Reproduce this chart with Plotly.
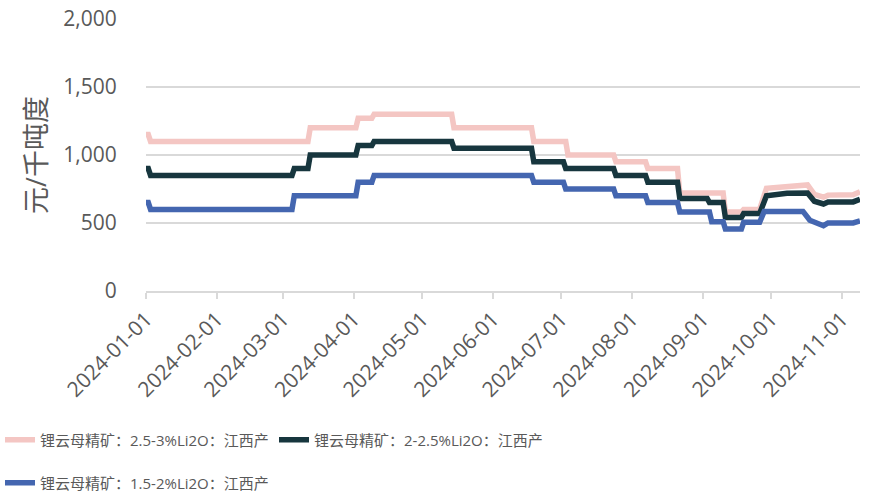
import plotly.graph_objects as go

# Series 1: 锂云母精矿：2.5-3%Li2O：江西产
pink_dates = ["2024-01-01", "2024-01-02", "2024-01-03", "2024-03-12", "2024-03-13",
              "2024-04-02", "2024-04-03", "2024-04-09", "2024-04-10", "2024-05-14",
              "2024-05-15", "2024-06-18", "2024-06-19", "2024-07-03", "2024-07-04",
              "2024-07-24", "2024-07-25", "2024-08-07", "2024-08-08", "2024-08-21",
              "2024-08-22", "2024-09-10", "2024-09-11", "2024-09-18", "2024-09-19",
              "2024-09-26", "2024-09-29", "2024-10-08", "2024-10-17", "2024-10-20",
              "2024-10-24", "2024-10-26", "2024-11-06", "2024-11-09"]
pink_vals = [1150, 1150, 1100, 1100, 1200,
             1200, 1270, 1270, 1300, 1300,
             1200, 1200, 1100, 1100, 1000,
             1000, 950, 950, 900, 900,
             720, 720, 580, 580, 600,
             600, 755, 770, 780, 710,
             690, 705, 708, 730]

# Series 2: 锂云母精矿：2-2.5%Li2O：江西产
dark_dates = ["2024-01-01", "2024-01-02", "2024-01-03", "2024-03-05", "2024-03-06",
              "2024-03-12", "2024-03-13", "2024-04-02", "2024-04-03", "2024-04-09",
              "2024-04-10", "2024-05-14", "2024-05-15", "2024-06-18", "2024-06-19",
              "2024-07-02", "2024-07-03", "2024-07-24", "2024-07-25", "2024-08-07",
              "2024-08-08", "2024-08-21", "2024-08-22", "2024-09-03", "2024-09-04",
              "2024-09-10", "2024-09-11", "2024-09-18", "2024-09-19", "2024-09-26",
              "2024-09-29", "2024-10-08", "2024-10-17", "2024-10-20", "2024-10-24",
              "2024-10-26", "2024-11-06", "2024-11-09"]
dark_vals = [900, 900, 850, 850, 900,
             900, 1000, 1000, 1070, 1070,
             1100, 1100, 1050, 1050, 950,
             950, 900, 900, 850, 850,
             800, 800, 680, 680, 650,
             650, 540, 540, 570, 570,
             700, 718, 720, 660, 640,
             655, 655, 675]

# Series 3: 锂云母精矿：1.5-2%Li2O：江西产
blue_dates = ["2024-01-01", "2024-01-02", "2024-01-03", "2024-03-05", "2024-03-06",
              "2024-04-02", "2024-04-03", "2024-04-09", "2024-04-10", "2024-06-18",
              "2024-06-19", "2024-07-02", "2024-07-03", "2024-07-24", "2024-07-25",
              "2024-08-07", "2024-08-08", "2024-08-21", "2024-08-22", "2024-09-04",
              "2024-09-05", "2024-09-10", "2024-09-11", "2024-09-18", "2024-09-19",
              "2024-09-26", "2024-09-28", "2024-10-15", "2024-10-18", "2024-10-24",
              "2024-10-26", "2024-11-06", "2024-11-09"]
blue_vals = [650, 650, 600, 600, 700,
             700, 800, 800, 850, 850,
             800, 800, 750, 750, 700,
             700, 650, 650, 580, 580,
             510, 510, 455, 455, 505,
             505, 585, 585, 520, 480,
             500, 500, 515]

names = ["锂云母精矿：2.5-3%Li2O：江西产",
         "锂云母精矿：2-2.5%Li2O：江西产",
         "锂云母精矿：1.5-2%Li2O：江西产"]
colors = ["#F4C6C3", "#17363E", "#4466B0"]

y_ticks = [0, 500, 1000, 1500, 2000]
x_ticks = ["2024-01-01", "2024-02-01", "2024-03-01", "2024-04-01", "2024-05-01",
           "2024-06-01", "2024-07-01", "2024-08-01", "2024-09-01", "2024-10-01",
           "2024-11-01"]

FONT = "Open Sans, Noto Sans CJK SC, sans-serif"
GREY = "#595959"

fig = go.Figure()
series = [(pink_dates, pink_vals), (dark_dates, dark_vals), (blue_dates, blue_vals)]
legends = ["legend", "legend", "legend2"]
for (d, v), n, c, lg in zip(series, names, colors, legends):
    fig.add_trace(go.Scatter(x=d, y=v, name=n, mode="lines",
                             line=dict(color=c, width=5.5),
                             legend=lg))

fig.update_layout(
    width=884, height=492,
    margin=dict(l=146, r=24, t=19, b=201),
    paper_bgcolor="white", plot_bgcolor="white",
    font=dict(family=FONT, color=GREY),
    xaxis=dict(
        type="date",
        automargin=False,
        range=["2024-01-01", "2024-11-09"],
        tickvals=x_ticks, ticktext=x_ticks,
        tickangle=-45,
        tickfont=dict(size=21, color=GREY),
        showgrid=False,
        showline=True, linecolor="#D9D9D9", linewidth=1.5,
        ticks="outside", ticklen=6, tickcolor="#D9D9D9", tickwidth=1.5,
        zeroline=False,
    ),
    yaxis=dict(
        automargin=False,
        range=[0, 2000],
        tickvals=y_ticks,
        tickformat=",d",
        tickfont=dict(size=21, color=GREY),
        showgrid=True, gridcolor="#D9D9D9", gridwidth=1.5,
        zeroline=False, showline=False,
        ticks="outside", ticklen=24, tickcolor="rgba(0,0,0,0)",
        title=dict(text="元/千吨度", font=dict(size=27, color=GREY), standoff=8),
    ),
    legend=dict(
        orientation="h", xref="container", yref="container",
        x=-0.004, y=0.1057, xanchor="left", yanchor="middle",
        font=dict(size=15, color=GREY),
        entrywidth=229, itemwidth=30,
        bgcolor="rgba(0,0,0,0)",
    ),
    legend2=dict(
        orientation="h", xref="container", yref="container",
        x=-0.004, y=0.0183, xanchor="left", yanchor="middle",
        font=dict(size=15, color=GREY),
        itemwidth=30,
        bgcolor="rgba(0,0,0,0)",
    ),
)

fig.write_html("out.html", config={"displayModeBar": False},
               post_script="document.body.style.margin='0px';")
